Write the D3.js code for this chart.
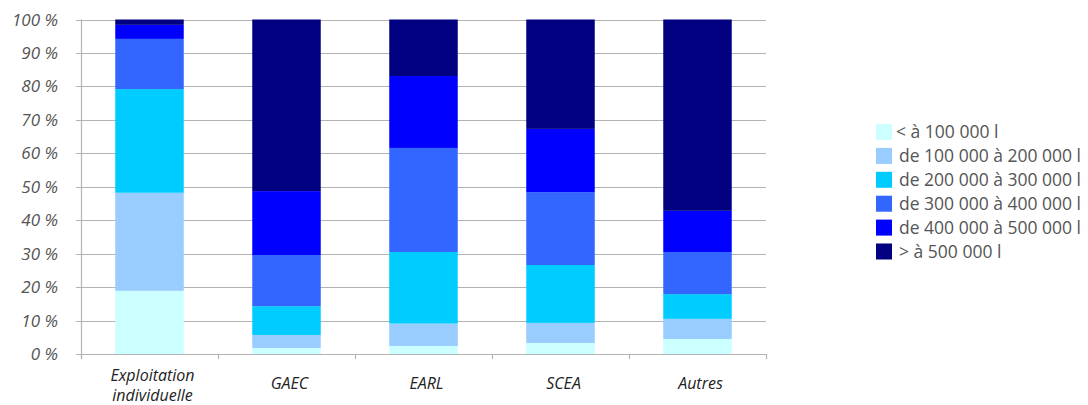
<!DOCTYPE html>
<html><head><meta charset="utf-8">
<script src="https://cdn.jsdelivr.net/npm/d3@7"></script>
<style>body{margin:0;background:#fff;}svg{display:block;}</style>
</head><body>
<svg id="c" width="1088" height="405"></svg>
<script>
const categories = ["Exploitation individuelle", "GAEC", "EARL", "SCEA", "Autres"];
const seriesNames = ["< à 100 000 l", "de 100 000 à 200 000 l", "de 200 000 à 300 000 l", "de 300 000 à 400 000 l", "de 400 000 à 500 000 l", "> à 500 000 l"];
const s1 = [18.9, 1.8, 2.4, 3.3, 4.5];
const s2 = [29.3, 3.9, 6.7, 6.0, 6.0];
const s3 = [31.0, 8.6, 21.4, 17.3, 7.4];
const s4 = [15.0, 15.3, 31.1, 21.8, 12.6];
const s5 = [4.2, 19.1, 21.5, 18.9, 12.3];
const s6 = [1.6, 51.3, 16.9, 32.7, 57.2];
const yTicks = [0, 10, 20, 30, 40, 50, 60, 70, 80, 90, 100];
const colors = ["#CCFFFF", "#99CCFF", "#00CCFF", "#3366FF", "#0000FF", "#000080"];

(function () {
const series = [s1, s2, s3, s4, s5, s6];
const rows = categories.map((c, i) => {
  const r = {cat: c};
  seriesNames.forEach((n, k) => r[n] = series[k][i]);
  return r;
});
const stacked = d3.stack().keys(seriesNames)(rows);

const svg = d3.select("#c");
const pl = 81, pr = 766, pt = 19.5, pb = 354;
const x = d3.scaleBand().domain(categories).range([pl, pr]).paddingInner(0.5).paddingOuter(0.25);
const y = d3.scaleLinear().domain([0, 100]).range([pb, pt]);

// gridlines
svg.append("g").selectAll("line").data(yTicks).join("line")
  .attr("x1", pl - 5).attr("x2", pr)
  .attr("y1", d => Math.round(y(d)) + 0.5).attr("y2", d => Math.round(y(d)) + 0.5)
  .attr("stroke", "#b3b3b3").attr("stroke-width", 1.2);

// y axis labels
svg.append("g").selectAll("text").data(yTicks).join("text")
  .attr("x", 58).attr("y", d => y(d) + 6)
  .attr("text-anchor", "end")
  .attr("font-family", "Open Sans").attr("font-style", "italic").attr("font-size", 17)
  .attr("fill", "#555").text(d => d + " %");

// bars
svg.append("g").selectAll("g").data(stacked).join("g")
  .attr("fill", (d, i) => colors[i])
  .selectAll("rect").data(d => d).join("rect")
  .attr("x", d => x(d.data.cat))
  .attr("width", x.bandwidth())
  .attr("y", d => y(d[1]))
  .attr("height", d => y(d[0]) - y(d[1]));

// axes lines
svg.append("line").attr("x1", pl + 0.5).attr("x2", pl + 0.5).attr("y1", pt).attr("y2", pb + 5)
  .attr("stroke", "#b3b3b3").attr("stroke-width", 1.2);
svg.append("line").attr("x1", pl).attr("x2", pr).attr("y1", Math.round(pb) + 0.5).attr("y2", Math.round(pb) + 0.5)
  .attr("stroke", "#b3b3b3").attr("stroke-width", 1.2);
const step = x.step();
const tickXs = d3.range(categories.length + 1).map(i => pl + i * step);
svg.append("g").selectAll("line").data(tickXs).join("line")
  .attr("x1", d => Math.round(d) + 0.5).attr("x2", d => Math.round(d) + 0.5)
  .attr("y1", pb).attr("y2", pb + 5)
  .attr("stroke", "#b3b3b3").attr("stroke-width", 1.2);

// category labels
const catG = svg.append("g");
categories.forEach(c => {
  const cx = x(c) + x.bandwidth() / 2 + 3;
  const words = c.split(" ");
  const t = catG.append("text")
    .attr("x", cx).attr("text-anchor", "middle")
    .attr("font-family", "Open Sans").attr("font-style", "italic").attr("font-size", 16)
    .attr("fill", "#222");
  if (words.length > 1) {
    t.attr("y", 381);
    words.forEach((w, i) => t.append("tspan").attr("x", cx).attr("dy", i === 0 ? 0 : 20).text(w));
  } else {
    t.attr("y", 389).text(c);
  }
});

// legend
const lg = svg.append("g").attr("transform", "translate(876,124)");
seriesNames.forEach((n, i) => {
  const g = lg.append("g").attr("transform", `translate(0,${i * 23.9})`);
  g.append("rect").attr("width", 16).attr("height", 16).attr("fill", colors[i]);
  g.append("text").attr("x", i === 0 ? 20 : 23).attr("y", 14)
    .attr("font-family", "Open Sans").attr("font-size", 17.5).attr("fill", "#555").text(n);
});
})();
</script>
</body></html>
